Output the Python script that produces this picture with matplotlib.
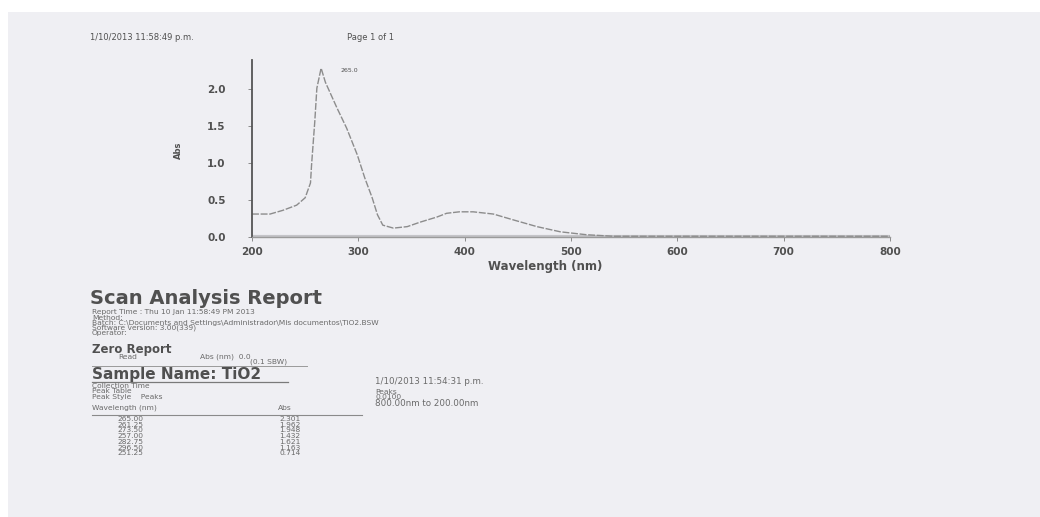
import numpy as np
import matplotlib
matplotlib.use("Agg")
import matplotlib.pyplot as plt
from matplotlib.lines import Line2D

# spectrum (wavelength in nm, absorbance)
wavelength = [200, 203, 217, 229, 242, 250, 255, 256, 259, 261, 265, 269, 280, 289, 299,
              306, 313, 318, 323, 333, 346, 358, 374, 383, 395, 408, 427, 446, 468,
              490, 515, 540, 600, 700, 800]
absorbance = [0.31, 0.31, 0.31, 0.36, 0.43, 0.53, 0.73, 0.97, 1.55, 2.01, 2.28, 2.09, 1.74, 1.47, 1.11,
              0.80, 0.53, 0.30, 0.16, 0.12, 0.14, 0.20, 0.27, 0.32, 0.34, 0.34, 0.31, 0.23, 0.14,
              0.07, 0.03, 0.01, 0.01, 0.01, 0.01]

x_ticks = [200, 300, 400, 500, 600, 700, 800]
y_ticks = [0.0, 0.5, 1.0, 1.5, 2.0]

# peak table printed under the report
table_wl = ["265.00", "261.25", "273.50", "257.00", "282.75", "296.50", "251.25"]
table_abs = ["2.301", "1.962", "1.948", "1.432", "1.621", "1.163", "0.714"]

PAGE = "#efeff3"
INK = "#505050"


def fx(px):
    return px / 1040.0


def fy(py):
    return 1 - py / 517.0


fig = plt.figure(figsize=(10.4, 5.17), dpi=100)
fig.patch.set_facecolor("white")
# scanned page area
fig.add_artist(plt.Rectangle((fx(8), 0), 1 - fx(8), fy(12), transform=fig.transFigure,
                             facecolor=PAGE, edgecolor="none", zorder=0))

ax = fig.add_axes([fx(252), fy(237), fx(890) - fx(252), fy(60) - fy(237)])
ax.set_facecolor("none")
ax.plot(wavelength, absorbance, color="#8c8c8c", lw=1.0, linestyle=(0, (5, 1.2)))
ax.axhline(0.0, color="#c4c4c8", lw=3, zorder=0)

ax.set_xlim(200, 800)
ax.set_ylim(0, 2.39)
ax.set_xticks(x_ticks)
ax.set_yticks(y_ticks)
ax.set_xticklabels([str(v) for v in x_ticks], fontsize=7.5, fontweight="bold", color=INK)
ax.set_yticklabels([f"{v:.1f}" for v in y_ticks], fontsize=7.5, fontweight="bold", color=INK)
ax.tick_params(axis="both", length=3, width=0.7, colors="#8a8a8a", pad=4)
ax.tick_params(axis="x", labelcolor=INK)
ax.tick_params(axis="y", labelcolor=INK, pad=16)
for side in ["top", "right"]:
    ax.spines[side].set_visible(False)
ax.spines["left"].set_color("#555555")
ax.spines["left"].set_linewidth(1.3)
ax.spines["bottom"].set_color("#9a9a9a")
ax.spines["bottom"].set_linewidth(1.0)

ax.set_xlabel("Wavelength (nm)", fontsize=8.5, fontweight="bold", color=INK, labelpad=0)
ax.xaxis.set_label_coords((545 - 252) / (890 - 252), -0.13)
ax.set_ylabel("Abs", fontsize=6, fontweight="bold", color=INK)
ax.yaxis.set_label_coords(-(252 - 183) / (890 - 252), (237 - 150) / (237 - 60))

ipk = int(np.argmax(absorbance))
ax.annotate(f"{wavelength[ipk]:.1f}", (wavelength[ipk], absorbance[ipk]),
            xytext=(14, -2), textcoords="offset points", fontsize=4.5, color=INK, va="center")

# header line
fig.text(fx(90), fy(37), "1/10/2013 11:58:49 p.m.", fontsize=6, color=INK, va="center")
fig.text(fx(347), fy(37), "Page 1 of 1", fontsize=6, color=INK, va="center")

# report block
fig.text(fx(90), fy(298), "Scan Analysis Report", fontsize=14, fontweight="bold",
         color=INK, va="center")
small = dict(fontsize=5.4, color="#6a6a6a", va="center")
fig.text(fx(92), fy(312), "Report Time : Thu 10 Jan 11:58:49 PM 2013", **small)
fig.text(fx(92), fy(318), "Method:", **small)
fig.text(fx(92), fy(323), "Batch: C:\\Documents and Settings\\Administrador\\Mis documentos\\TiO2.BSW", **small)
fig.text(fx(92), fy(328), "Software version: 3.00(339)", **small)
fig.text(fx(92), fy(333), "Operator:", **small)

fig.text(fx(92), fy(349), "Zero Report", fontsize=8.5, fontweight="bold", color=INK, va="center")
fig.text(fx(118), fy(357), "Read", **small)
fig.text(fx(200), fy(357), "Abs (nm)  0.0", **small)
fig.text(fx(250), fy(362), "(0.1 SBW)", **small)
fig.add_artist(Line2D([fx(92), fx(307)], [fy(366), fy(366)], color="#9a9a9a", lw=0.7))

fig.text(fx(92), fy(375), "Sample Name: TiO2", fontsize=11, fontweight="bold", color=INK, va="center")
fig.add_artist(Line2D([fx(92), fx(288)], [fy(382), fy(382)], color="#7a7a7a", lw=0.9))

fig.text(fx(92), fy(386), "Collection Time", **small)
fig.text(fx(92), fy(391), "Peak Table", **small)
fig.text(fx(92), fy(397), "Peak Style    Peaks", **small)
fig.text(fx(375), fy(381), "1/10/2013 11:54:31 p.m.", fontsize=6.3, color="#6a6a6a", va="center")
fig.text(fx(375), fy(392), "Peaks", **small)
fig.text(fx(375), fy(397), "0.0100", **small)
fig.text(fx(375), fy(403), "800.00nm to 200.00nm", fontsize=6.3, color="#6a6a6a", va="center")

fig.text(fx(92), fy(408), "Wavelength (nm)", **small)
fig.text(fx(278), fy(408), "Abs", **small)
fig.add_artist(Line2D([fx(92), fx(362)], [fy(415), fy(415)], color="#8a8a8a", lw=0.8))
for i, (w, a) in enumerate(zip(table_wl, table_abs)):
    y = 419 + i * 5.7
    fig.text(fx(117), fy(y), w, **small)
    fig.text(fx(279), fy(y), a, **small)

fig.savefig("out.png", dpi=100, facecolor=fig.get_facecolor())
